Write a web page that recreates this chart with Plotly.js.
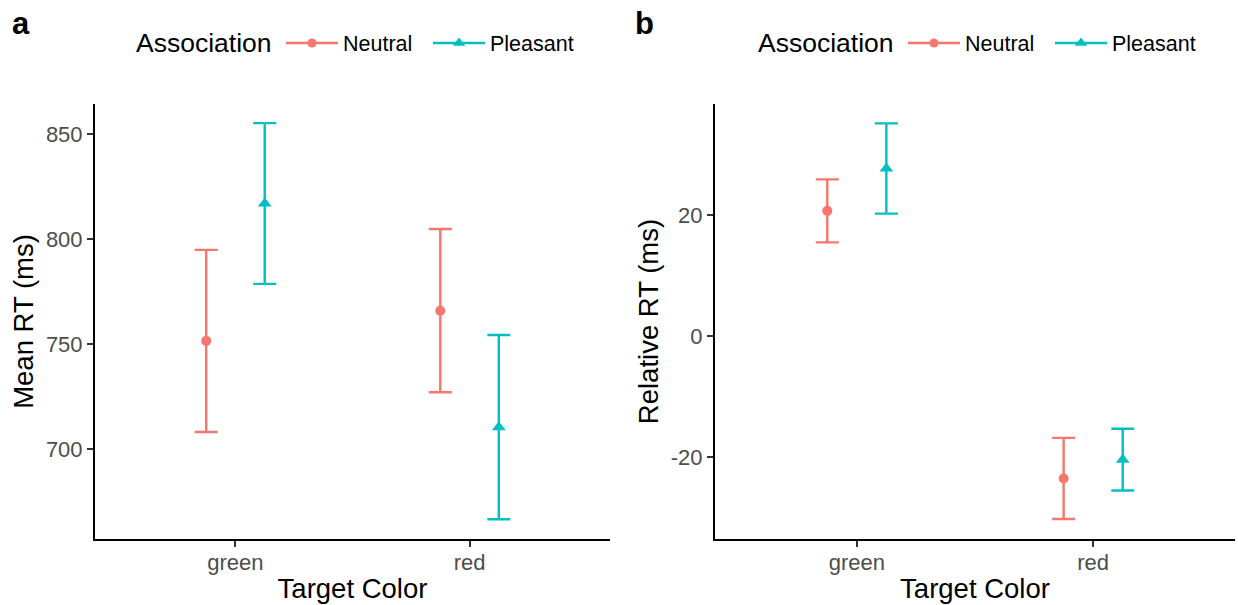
<!DOCTYPE html>
<html>
<head>
<meta charset="utf-8">
<script src="https://cdn.plot.ly/plotly-3.0.1.min.js"></script>
<style>
  html, body { margin: 0; padding: 0; background: #ffffff; }
  #chart { width: 1238px; height: 605px; }
</style>
</head>
<body>
<div id="chart"></div>
<script>
// Target colours on the x axis, association groups in the legend
const categories = ['green', 'red'];
const groups = ['Neutral', 'Pleasant'];
const legendTitle = 'Association';

// Panel a: mean RT (ms) and error half-widths
const meanNeutral = [751.5, 765.9];
const errNeutral = [43.4, 38.9];
const meanPleasant = [817.0, 710.4];
const errPleasant = [38.3, 43.9];

// Panel b: relative RT (ms) and error half-widths
const relNeutral = [20.7, -23.5];
const relErrNeutral = [5.2, 6.7];
const relPleasant = [27.7, -20.4];
const relErrPleasant = [7.45, 5.1];

// y tick values for each panel
const ticksA = [700, 750, 800, 850];
const ticksB = [-20, 0, 20];

const colors = { Neutral: '#F8766D', Pleasant: '#00BFC4' };
const symbols = { Neutral: 'circle', Pleasant: 'triangle-up' };
const markerSize = { Neutral: 10, Pleasant: 12 };
const dodge = { Neutral: -0.125, Pleasant: 0.125 };
const FONT = 'Liberation Sans, Arial, Helvetica, sans-serif';

// category positions 1..n, shifted per group
function positions(group) {
  return categories.map((c, i) => i + 1 + dodge[group]);
}

function pointTrace(group, y, err, xa, ya) {
  return {
    type: 'scatter', mode: 'markers',
    x: positions(group), y: y,
    xaxis: xa, yaxis: ya,
    name: group, showlegend: false,
    marker: { color: colors[group], symbol: symbols[group], size: markerSize[group], line: { width: 0 } },
    error_y: { type: 'data', array: err, visible: true, color: colors[group], thickness: 2.4, width: 11.5 },
    hoverinfo: 'x+y'
  };
}

// legend entries drawn as line + marker, one set per panel legend
function legendTrace(group, xa, ya, legend) {
  return {
    type: 'scatter', mode: 'lines+markers',
    x: [null], y: [null], xaxis: xa, yaxis: ya,
    name: group, legend: legend, showlegend: true,
    line: { color: colors[group], width: 2.4 },
    marker: { color: colors[group], symbol: symbols[group], size: markerSize[group] - 1 }
  };
}

const data = [
  pointTrace('Neutral', meanNeutral, errNeutral, 'x', 'y'),
  pointTrace('Pleasant', meanPleasant, errPleasant, 'x', 'y'),
  pointTrace('Neutral', relNeutral, relErrNeutral, 'x2', 'y2'),
  pointTrace('Pleasant', relPleasant, relErrPleasant, 'x2', 'y2'),
  legendTrace('Neutral', 'x', 'y', 'legend'),
  legendTrace('Pleasant', 'x', 'y', 'legend'),
  legendTrace('Neutral', 'x2', 'y2', 'legend2'),
  legendTrace('Pleasant', 'x2', 'y2', 'legend2')
];

const W = 1238, H = 605;
const px = v => v / W;
const py = v => 1 - v / H;

function xAxis(domain) {
  return {
    domain: domain, range: [0.4, 2.6],
    tickvals: categories.map((c, i) => i + 1), ticktext: categories,
    showline: true, linecolor: '#000000', linewidth: 2,
    ticks: 'outside', ticklen: 6, tickwidth: 2, tickcolor: '#333333',
    ticklabelstandoff: -3,
    showgrid: false, zeroline: false,
    tickfont: { family: FONT, size: 22, color: '#4D4D4D' },
    title: { text: 'Target Color', font: { family: FONT, size: 27.5, color: '#000000' }, standoff: 4 },
    automargin: false, fixedrange: true
  };
}

function yAxis(range, ticks, title, anchor) {
  return {
    domain: [py(539), py(104)], range: range, anchor: anchor,
    tickvals: ticks, ticktext: ticks.map(String),
    showline: true, linecolor: '#000000', linewidth: 2,
    ticks: 'outside', ticklen: 6, tickwidth: 2, tickcolor: '#333333',
    showgrid: false, zeroline: false,
    tickfont: { family: FONT, size: 22, color: '#4D4D4D' },
    title: { text: title, font: { family: FONT, size: 27.5, color: '#000000' }, standoff: 4 },
    automargin: false, fixedrange: true
  };
}

function legendBox(x) {
  return {
    orientation: 'h', x: x, y: py(43), xanchor: 'left', yanchor: 'middle',
    bgcolor: 'rgba(0,0,0,0)', borderwidth: 0,
    font: { family: FONT, size: 21.5, color: '#000000' },
    itemwidth: 52, entrywidth: 80, entrywidthmode: 'pixels',
    itemclick: false, itemdoubleclick: false
  };
}

function titleNote(x) {
  return {
    text: legendTitle, xref: 'paper', yref: 'paper', x: x, y: py(43),
    xanchor: 'left', yanchor: 'middle', showarrow: false,
    font: { family: FONT, size: 26.5, color: '#000000' }
  };
}

function panelTag(label, x) {
  return {
    text: '<b>' + label + '</b>', xref: 'paper', yref: 'paper', x: x, y: py(4),
    xanchor: 'left', yanchor: 'top', showarrow: false,
    font: { family: FONT, size: 31, color: '#000000' }
  };
}

const layout = {
  width: W, height: H,
  margin: { l: 0, r: 0, t: 0, b: 0 },
  paper_bgcolor: '#ffffff', plot_bgcolor: '#ffffff',
  font: { family: FONT },
  showlegend: true,
  xaxis: Object.assign(xAxis([px(95), px(610)]), { anchor: 'y' }),
  yaxis: yAxis([657.1, 864.4], ticksA, 'Mean RT (ms)', 'x'),
  xaxis2: Object.assign(xAxis([px(715), px(1235)]), { anchor: 'y2' }),
  yaxis2: yAxis([-33.5, 38.35], ticksB, 'Relative RT (ms)', 'x2'),
  legend: legendBox(px(281)),
  legend2: legendBox(px(903)),
  annotations: [
    titleNote(px(134)), titleNote(px(756)),
    panelTag('a', px(10)), panelTag('b', px(633))
  ]
};

Plotly.newPlot('chart', data, layout, { displayModeBar: false, staticPlot: true });
</script>
</body>
</html>
